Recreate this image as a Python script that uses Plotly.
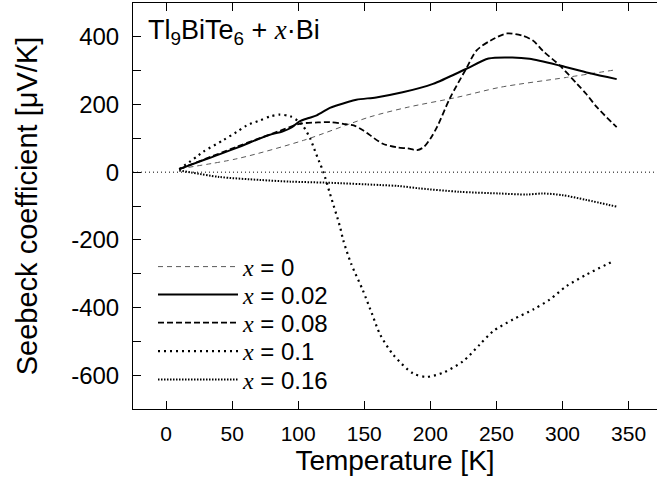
import plotly.graph_objects as go

# ---- data ----
T_x0 = [10, 54, 104, 154, 183, 220, 253, 303, 341]
S_x0 = [10, 40, 94, 163, 192, 221, 251, 280, 303]

T_x002 = [10, 30, 53.5, 78, 88, 95, 101, 108, 114, 124, 129, 144, 159, 179, 202, 227, 244, 262, 275, 298, 320, 341]
S_x002 = [9, 38, 72, 110, 120, 132, 150, 160, 168, 190, 197, 214, 221, 236, 261, 305, 336, 339, 335, 315, 293, 275]

T_x008 = [10, 53.5, 86, 101, 115, 124, 134, 142, 149, 164, 175, 183, 190, 195, 200, 205, 215, 227, 235, 246, 258, 270, 278, 285, 298, 311, 318, 326, 341]
S_x008 = [9, 75, 122, 143, 147, 148, 143, 138, 124, 84, 73, 70, 65, 74, 99, 133, 220, 305, 360, 390, 410, 403, 388, 359, 315, 261, 231, 192, 133]

T_x01 = [10, 23, 28, 43, 53.5, 61, 71, 79, 86, 94, 101, 104, 109, 112, 116, 119, 124, 131.6, 134, 140, 149, 156, 162, 172, 187, 197, 210, 225, 237.5, 247.6, 262.7, 277.8, 290.5, 303, 318, 339]
S_x01 = [9, 45, 60, 94, 119, 138, 153, 165, 170, 165, 148, 135, 100, 70, 30, 1, -63, -161, -200, -270, -350, -420, -480, -540, -595, -605, -592, -558, -509, -470, -435, -406, -376, -337, -303, -262]

T_x016 = [10, 40, 71, 94, 121, 162, 176, 192, 222, 252, 273, 285, 300, 318, 341]
S_x016 = [5, -14, -23, -28, -31, -38, -41, -48, -58, -63, -66, -63, -68, -82, -102]

x_tickvals = [0, 50, 100, 150, 200, 250, 300, 350]
y_tickvals = [-700, -600, -500, -400, -300, -200, -100, 0, 100, 200, 300, 400]
y_ticktext = ["", "-600", "", "-400", "", "-200", "", "0", "", "200", "", "400"]

XS = "<span style=\"font-family:'Liberation Serif'\"><i>x</i></span>"
names = [XS + " = 0", XS + " = 0.02", XS + " = 0.08", XS + " = 0.1", XS + " = 0.16"]

series = [
    (T_x0, S_x0, dict(color="#5a5a5a", width=1, dash="5px,4px")),
    (T_x002, S_x002, dict(color="black", width=2, dash="solid")),
    (T_x008, S_x008, dict(color="black", width=1.8, dash="6px,3px")),
    (T_x01, S_x01, dict(color="black", width=2.2, dash="2px,4px")),
    (T_x016, S_x016, dict(color="black", width=2, dash="1.5px,1.5px")),
]

FONT = "Liberation Sans, Arial, sans-serif"
PL, PT, PW, PH = 133, 3, 524, 406
legend_rows = [267, 295, 323, 351.5, 380]

fig = go.Figure()
layout_legends = {}
for i, ((tx, sy, ln), nm) in enumerate(zip(series, names)):
    ln = dict(ln)
    ln["shape"] = "spline"
    ln["smoothing"] = 0.8
    lname = "legend" if i == 0 else f"legend{i + 1}"
    fig.add_trace(go.Scatter(x=tx, y=sy, mode="lines", name=nm, line=ln, legend=lname))
    layout_legends[lname] = dict(
        x=(153 - PL) / PW, y=1 - (legend_rows[i] - PT) / PH,
        xanchor="left", yanchor="middle",
        bgcolor="rgba(0,0,0,0)", font=dict(family=FONT, size=24, color="black"),
        itemwidth=80,
    )

# zero reference line
fig.add_shape(type="line", xref="paper", x0=0, x1=1, yref="y", y0=0, y1=0,
              line=dict(color="black", width=1, dash="1px,3px"), layer="below")

fig.add_annotation(
    text="Tl<sub>9</sub>BiTe<sub>6</sub> + " + XS + "·Bi",
    xref="paper", yref="paper", x=(146 - PL) / PW, y=1 - (32 - PT) / PH,
    xanchor="left", yanchor="middle", showarrow=False,
    font=dict(family=FONT, size=27, color="black"),
)

fig.update_layout(
    width=657, height=496,
    margin=dict(l=PL, r=0, t=PT, b=87),
    plot_bgcolor="white", paper_bgcolor="white",
    font=dict(family=FONT, color="black"),
    showlegend=True,
    xaxis=dict(
        range=[-25, 371.5], tickvals=x_tickvals, ticks="inside", ticklen=8,
        tickcolor="black", showline=True, linecolor="black", linewidth=1,
        mirror="ticks", showgrid=False, zeroline=False,
        tickfont=dict(size=21, family=FONT), ticklabelstandoff=6,
        title=dict(text="Temperature [K]", font=dict(size=28, family=FONT), standoff=1),
    ),
    yaxis=dict(
        range=[-700, 500], tickvals=y_tickvals, ticktext=y_ticktext, ticks="inside",
        ticklen=8, tickcolor="black", showline=True, linecolor="black", linewidth=1,
        mirror=False, showgrid=False, zeroline=False,
        tickfont=dict(size=24, family=FONT), ticklabelstandoff=8,
        title=dict(text="Seebeck coefficient [μV/K]", font=dict(size=29, family=FONT), standoff=25),
    ),
)
fig.update_layout(**layout_legends)

fig.write_html("out.html")
